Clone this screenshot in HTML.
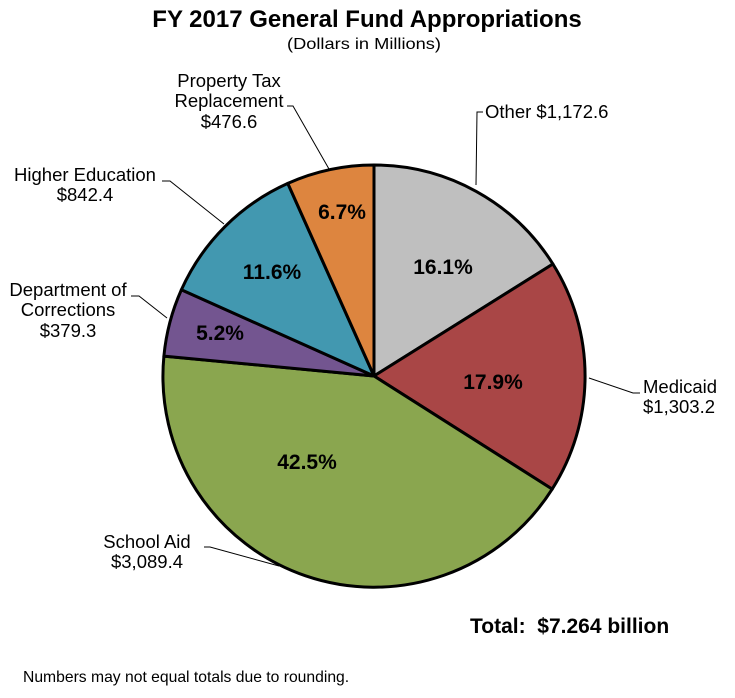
<!DOCTYPE html>
<html><head><meta charset="utf-8"><style>
html,body{margin:0;padding:0;background:#fff;}
svg{display:block;}
text{font-family:"Liberation Sans",Arial,sans-serif;fill:#000;}
</style></head><body>
<svg width="735" height="698" viewBox="0 0 735 698">
<text x="367" y="27" text-anchor="middle" font-size="24" font-weight="bold">FY 2017 General Fund Appropriations</text>
<text x="364" y="49" text-anchor="middle" font-size="16" textLength="154" lengthAdjust="spacingAndGlyphs">(Dollars in Millions)</text>
<g stroke="#000" stroke-width="3" stroke-linejoin="round">
<path d="M374,376 L374,165 A211,211 0 0 1 552.9,264 Z" fill="#bfbfbf"/>
<path d="M374,376 L552.9,264 A211,211 0 0 1 552.2,489.1 Z" fill="#a94646"/>
<path d="M374,376 L552.2,489.1 A211,211 0 0 1 163.9,356.1 Z" fill="#8aa64f"/>
<path d="M374,376 L163.9,356.1 A211,211 0 0 1 181.4,289.8 Z" fill="#735590"/>
<path d="M374,376 L181.4,289.8 A211,211 0 0 1 287.8,183.4 Z" fill="#4298b0"/>
<path d="M374,376 L287.8,183.4 A211,211 0 0 1 374,165 Z" fill="#dd853f"/>
</g>
<g font-size="21" font-weight="bold" text-anchor="middle">
<text x="443" y="274">16.1%</text>
<text x="493" y="389">17.9%</text>
<text x="307" y="469">42.5%</text>
<text x="220" y="340">5.2%</text>
<text x="272" y="279">11.6%</text>
<text x="342" y="219">6.7%</text>
</g>
<g stroke="#000" stroke-width="1" fill="none">
<polyline points="483,112 477,112 476,185"/>
<polyline points="589,378 633,393 640,393"/>
<polyline points="279,566 210,547 204,547"/>
<polyline points="131,296 139,296 167,318"/>
<polyline points="162,181 170,181 224,224"/>
<polyline points="287,106 293,106 329,169"/>
</g>
<g font-size="18.5">
<text x="485" y="118">Other $1,172.6</text>
<text x="643" y="393">Medicaid</text>
<text x="643" y="413">$1,303.2</text>
<text x="147" y="548" text-anchor="middle">School Aid</text>
<text x="147" y="568" text-anchor="middle">$3,089.4</text>
<text x="68" y="296" text-anchor="middle">Department of</text>
<text x="68" y="316" text-anchor="middle">Corrections</text>
<text x="68" y="337" text-anchor="middle">$379.3</text>
<text x="85" y="181" text-anchor="middle">Higher Education</text>
<text x="85" y="201" text-anchor="middle">$842.4</text>
<text x="229" y="87" text-anchor="middle">Property Tax</text>
<text x="229" y="107" text-anchor="middle">Replacement</text>
<text x="229" y="128" text-anchor="middle">$476.6</text>
</g>
<text x="470" y="633" font-size="21" font-weight="bold">Total:&#160; $7.264 billion</text>
<text x="23" y="682" font-size="15.7">Numbers may not equal totals due to rounding.</text>
</svg>
</body></html>
